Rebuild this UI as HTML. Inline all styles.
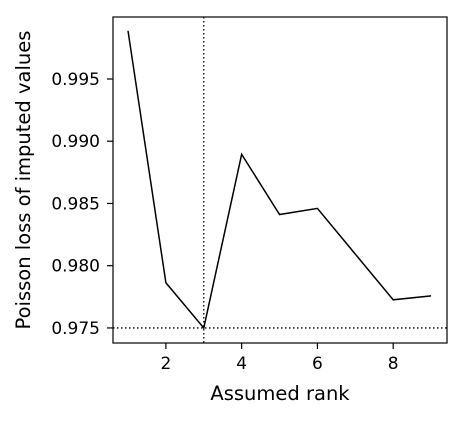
<!DOCTYPE html>
<html><head><meta charset="utf-8">
<style>
html,body{margin:0;padding:0;background:#fff;}
svg text{font-family:"DejaVu Sans","Liberation Sans",sans-serif;fill:#000;}
</style></head>
<body>
<svg id="chart" width="465" height="418" viewBox="0 0 465 418" xmlns="http://www.w3.org/2000/svg"></svg>
<script>
const ranks = [1,2,3,4,5,6,7,8,9];
const losses = [0.99887,0.97863,0.97500,0.98895,0.98411,0.98460,0.98093,0.97726,0.97758];
const xTicks = [2,4,6,8];
const yTicks = [0.975,0.980,0.985,0.990,0.995];
const yTickLabels = ["0.975","0.980","0.985","0.990","0.995"];
const bestRank = 3;
const bestLoss = 0.975;

const L=113,R=447,T=17,B=343;
const xMin=0.604,xMax=9.42,yMin=0.97379,yMax=0.99998;
const sx=v=>L+(v-xMin)/(xMax-xMin)*(R-L);
const sy=v=>B-(v-yMin)/(yMax-yMin)*(B-T);
const svg=document.getElementById('chart');
const NS='http://www.w3.org/2000/svg';
function mk(tag,attrs){const e=document.createElementNS(NS,tag);for(const k in attrs)e.setAttribute(k,attrs[k]);svg.appendChild(e);return e;}

xTicks.forEach(t=>{
  const l=mk('line',{x1:sx(t),x2:sx(t),y1:B,y2:B+6,stroke:'#000','stroke-width':1.2});
  
  
  const tx=mk('text',{x:sx(t),y:B+26,'text-anchor':'middle','font-size':17});
  tx.textContent=t;
  
  
});
yTicks.forEach((t,i)=>{
  const l=mk('line',{x1:L-6,x2:L,y1:sy(t),y2:sy(t),stroke:'#000','stroke-width':1.2});
  
  
  const tx=mk('text',{x:L-13,y:sy(t)+6,'text-anchor':'end','font-size':17});
  tx.textContent=yTickLabels[i];
  
  
});

const vl=mk('line',{x1:sx(bestRank),x2:sx(bestRank),y1:T,y2:B,stroke:'#000','stroke-width':1.3,'stroke-dasharray':'1.5,2.5'});


const hl=mk('line',{x1:L,x2:R,y1:sy(bestLoss),y2:sy(bestLoss),stroke:'#000','stroke-width':1.3,'stroke-dasharray':'1.5,2.5'});



const pts=ranks.map((r,i)=>sx(r)+','+sy(losses[i])).join(' ');
const pl=mk('polyline',{points:pts,fill:'none',stroke:'#000','stroke-width':1.5});



const fr=mk('rect',{x:L,y:T,width:R-L,height:B-T,fill:'none',stroke:'#000','stroke-width':1.2});



const xt=mk('text',{x:(L+R)/2,y:400,'text-anchor':'middle','font-size':19.5});
xt.textContent='Assumed rank';


const yt=mk('text',{x:0,y:0,'text-anchor':'middle','font-size':19.5,transform:`translate(30,${(T+B)/2}) rotate(-90)`});
yt.textContent='Poisson loss of imputed values';


</script>
</body></html>
